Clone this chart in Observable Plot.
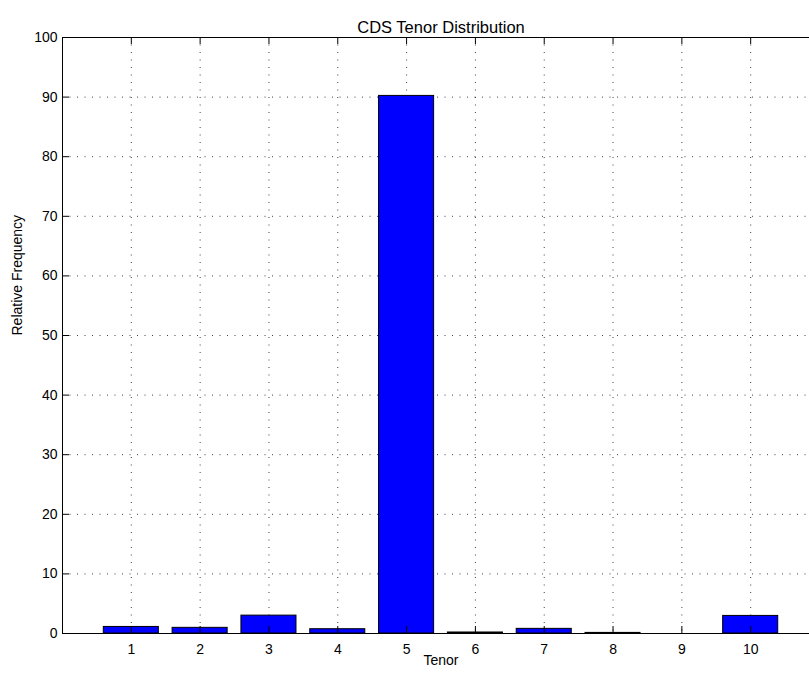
<!DOCTYPE html>
<html>
<head>
<meta charset="utf-8">
<script src="https://cdn.jsdelivr.net/npm/d3@7"></script>
<script src="https://cdn.jsdelivr.net/npm/@observablehq/plot@0.6"></script>
<style>
  html, body { margin: 0; padding: 0; background: #fff; }
</style>
</head>
<body>
<div id="chart"></div>
<script>
const tenors = [1, 2, 3, 4, 5, 6, 7, 8, 9, 10];
const frequencies = [1.1, 0.95, 3.0, 0.72, 90.2, 0.17, 0.78, 0.1, 0, 2.95];
const xTicks = [1, 2, 3, 4, 5, 6, 7, 8, 9, 10];
const yTicks = [0, 10, 20, 30, 40, 50, 60, 70, 80, 90, 100];
const yGrid = [10, 20, 30, 40, 50, 60, 70, 80, 90];
const titleText = "CDS Tenor Distribution";
const xLabel = "Tenor";
const yLabel = "Relative Frequency";

const data = tenors.map((t, i) => ({tenor: t, value: frequencies[i]}));
const barHalf = 0.4;

const W = 809, H = 677;
const mL = 62, mR = -10, mT = 37, mB = 44;
const frameH = H - mT - mB;
const frameW = W - mL - mR;
const tickLen = 7;
const font = "'Liberation Sans', Arial, Helvetica, sans-serif";
const dash = "1,6.5";

const chart = Plot.plot({
  width: W,
  height: H,
  marginLeft: mL,
  marginRight: mR,
  marginTop: mT,
  marginBottom: mB,
  style: {fontFamily: font, background: "#fff", color: "#000"},
  x: {type: "linear", domain: [0, 11]},
  y: {domain: [0, 100]},
  marks: [
    Plot.ruleX(xTicks, {x: d => d, stroke: "#000", strokeOpacity: 0.75, strokeDasharray: dash}),
    Plot.ruleY(yGrid, {y: d => d, stroke: "#000", strokeOpacity: 0.75, strokeDasharray: dash}),
    Plot.rectY(data, {
      x1: d => d.tenor - barHalf,
      x2: d => d.tenor + barHalf,
      y1: 0,
      y2: "value",
      fill: "#0000ff",
      stroke: "#000",
      strokeWidth: 1
    }),
    Plot.frame({stroke: "#000", strokeWidth: 1}),
    Plot.tickX(xTicks, {x: d => d, stroke: "#000", insetTop: frameH - tickLen}),
    Plot.tickX(xTicks, {x: d => d, stroke: "#000", insetBottom: frameH - tickLen}),
    Plot.tickY(yTicks, {y: d => d, stroke: "#000", insetRight: frameW - tickLen}),
    Plot.axisX({ticks: xTicks, tickSize: 0, tickPadding: 11, fontSize: 14, label: null, tickFormat: d => String(d)}),
    Plot.axisY({ticks: yTicks, tickSize: 0, tickPadding: 5, fontSize: 14, label: null, tickFormat: d => String(d)}),
    Plot.text([titleText], {text: d => d, frameAnchor: "top", dy: -16, fontSize: 16.5, fill: "#000"}),
    Plot.text([xLabel], {text: d => d, frameAnchor: "bottom", dy: 31, fontSize: 14, fill: "#000"}),
    Plot.text([yLabel], {text: d => d, frameAnchor: "left", dx: -45, rotate: -90, fontSize: 14, fill: "#000"})
  ]
});
document.getElementById("chart").appendChild(chart);
</script>
</body>
</html>
